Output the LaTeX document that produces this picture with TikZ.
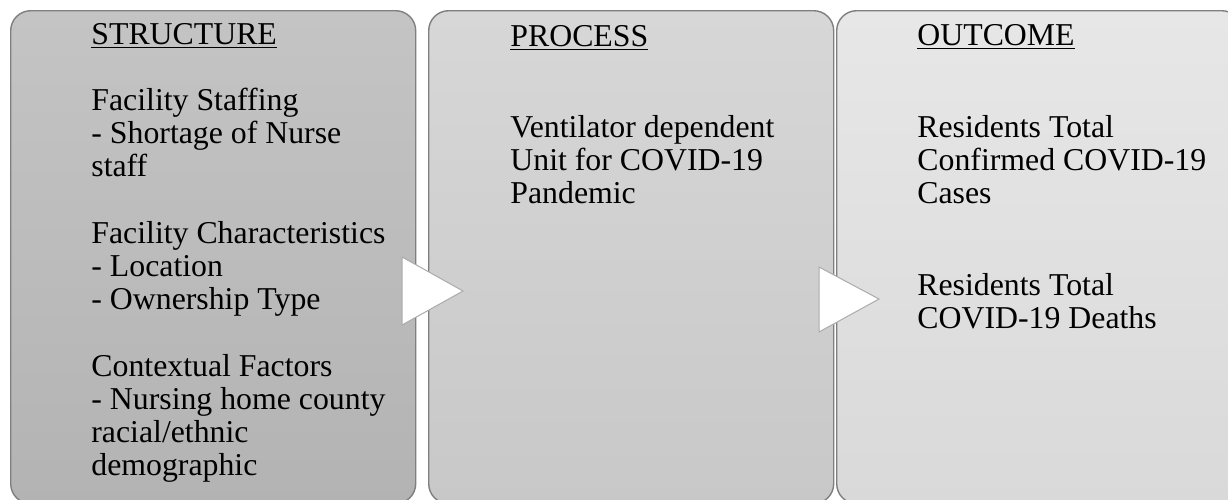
\documentclass[tikz,border=0pt]{standalone}
\usepackage{fontspec}
\setmainfont{Liberation Serif}
\usetikzlibrary{positioning}
\definecolor{boxedge}{HTML}{7F7F7F}
\definecolor{structtop}{HTML}{C4C4C4}
\definecolor{structbot}{HTML}{B3B3B3}
\definecolor{proctop}{HTML}{D7D7D7}
\definecolor{procbot}{HTML}{C8C8C8}
\definecolor{outtop}{HTML}{E7E7E7}
\definecolor{outbot}{HTML}{D9D9D9}
\definecolor{tipedge}{HTML}{ABABAB}
\tikzset{
  stage/.style={draw=boxedge, line width=0.7pt, rounded corners=10pt, anchor=north west,
    minimum width=202.5pt, minimum height=246.5pt, inner sep=0pt},
  bodytext/.style={anchor=base west, align=left, inner sep=0pt,
    font=\fontsize{15.9pt}{16.5pt}\selectfont},
  chevron/.style={fill=white, draw=tipedge, line width=0.5pt}
}
\begin{document}
\begin{tikzpicture}[x=0.5pt, y=-0.5pt]
  \useasboundingbox (0,0) rectangle (1228,499);
  \clip (0,0) rectangle (1228,499);
  \fill[white] (0,0) rectangle (1228,499);
  \node[stage, top color=structtop, bottom color=structbot] (structure) at (10,10) {};
  \node[stage, top color=proctop, bottom color=procbot] (process) at (428,10) {};
  \node[stage, top color=outtop, bottom color=outbot] (outcome) at (836,10) {};
  \node[bodytext] (structhead) at (91,44) {\underline{STRUCTURE}};
  \node[bodytext] (staffing) at (91,176) {Facility Staffing\\- Shortage of Nurse\\staff};
  \node[bodytext] (traits) at (91,309) {Facility Characteristics\\- Location\\- Ownership Type};
  \node[bodytext] (context) at (91,475) {Contextual Factors\\- Nursing home county\\racial/ethnic\\demographic};
  \node[bodytext] (prochead) at (510,46) {\underline{PROCESS}};
  \node[bodytext] (ventunit) at (510,203) {Ventilator dependent\\Unit for COVID-19\\Pandemic};
  \node[bodytext] (outhead) at (917,45) {\underline{OUTCOME}};
  \node[bodytext] (cases) at (917,203) {Residents Total\\Confirmed COVID-19\\Cases};
  \node[bodytext] (deaths) at (917,328) {Residents Total\\COVID-19 Deaths};
  \coordinate (tipA) at (463,291);
  \coordinate (tipB) at (879,299);
  \draw[chevron] (402,257) -- (tipA) -- (402,325) -- cycle;
  \draw[chevron] (819,267) -- (tipB) -- (819,332) -- cycle;
\end{tikzpicture}
\end{document}
